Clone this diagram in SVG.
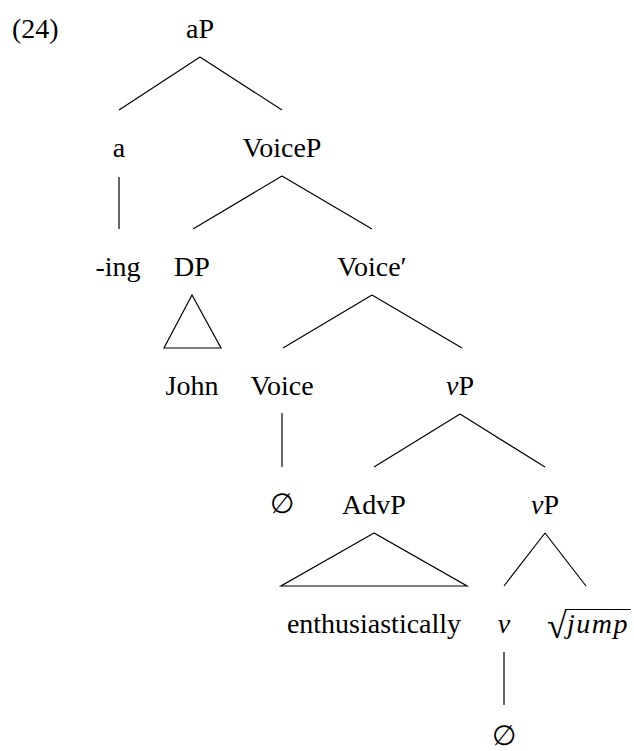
<svg xmlns="http://www.w3.org/2000/svg" width="634" height="751" viewBox="0 0 634 751">
  <style>
    text { font-family: "Liberation Serif", "DejaVu Serif", serif; font-size: 28px; fill: #000; text-anchor: middle; }
    .it { font-style: italic; }
    .edge { stroke: #000; stroke-width: 1.2; fill: none; }
  </style>
  <rect width="634" height="751" fill="#fff"/>

  <text x="12" y="38" style="text-anchor:start">(24)</text>

  <!-- tree connectors -->
  <g id="connectors">
    <path class="edge" d="M200,57 L119,110 M200,57 L282,110"/>
    <path class="edge" d="M119,177 L119,229"/>
    <path class="edge" d="M282,176 L193,229 M282,176 L372,229"/>
    <path class="edge" d="M192,295 L164,348 L221,348 Z"/>
    <path class="edge" d="M372,295 L283,348 M372,295 L462,348"/>
    <path class="edge" d="M282,413 L282,467"/>
    <path class="edge" d="M460,414 L374,467 M460,414 L545,467"/>
    <path class="edge" d="M374,533 L281,586 L467,586 Z"/>
    <path class="edge" d="M545,533 L504,586 M545,533 L586,586"/>
    <path class="edge" d="M504,652 L504,705"/>
  </g>

  <!-- nodes -->
  <g id="n-aP"><text x="200" y="38">aP</text></g>
  <g id="n-a"><text x="119" y="157">a</text></g>
  <g id="n-VoiceP"><text x="282" y="157">VoiceP</text></g>
  <g id="n-ing"><text x="118" y="276">-ing</text></g>
  <g id="n-DP"><text x="192" y="276">DP</text></g>
  <g id="n-Voicebar"><text x="372" y="276">Voice′</text></g>
  <g id="n-John"><text x="192" y="395">John</text></g>
  <g id="n-Voice"><text x="282" y="395">Voice</text></g>
  <g id="n-vP1"><text x="460" y="395"><tspan class="it">v</tspan>P</text></g>
  <g id="n-null1"><text x="282" y="513">∅</text></g>
  <g id="n-AdvP"><text x="374" y="514">AdvP</text></g>
  <g id="n-vP2"><text x="545" y="514"><tspan class="it">v</tspan>P</text></g>
  <g id="n-enth"><text x="374" y="633">enthusiastically</text></g>
  <g id="n-v"><text x="504" y="633" class="it">v</text></g>
  <g id="n-root">
    <text x="557" y="638" style="font-size:36px">√</text>
    <line class="edge" x1="565" y1="609.5" x2="631" y2="609.5"/>
    <text x="598" y="633" class="it" style="letter-spacing:1.5px">jump</text>
  </g>
  <g id="n-null2"><text x="504" y="745">∅</text></g>
</svg>
